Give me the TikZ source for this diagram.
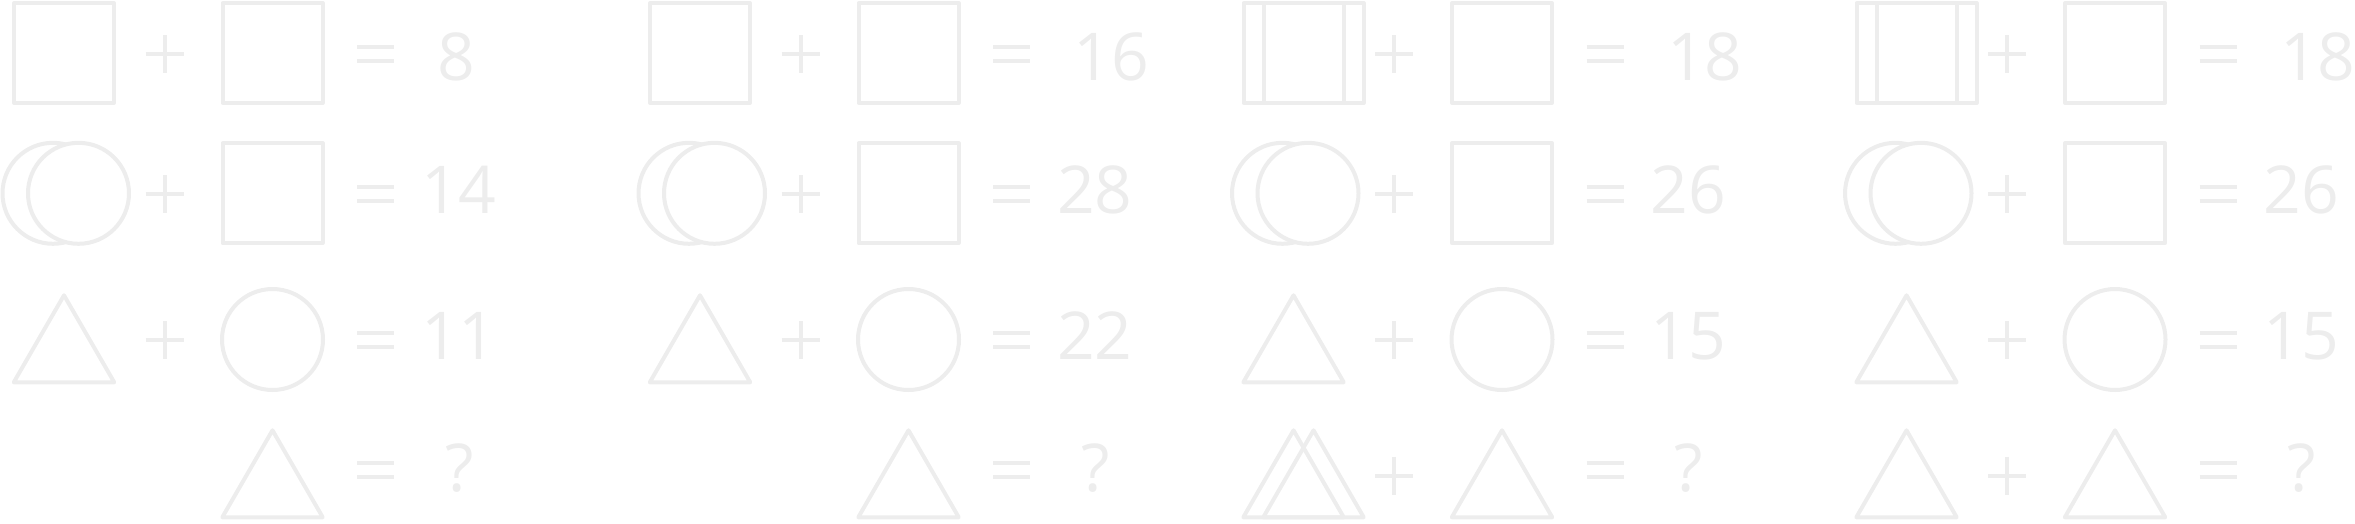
\documentclass[tikz,border=0pt]{standalone}
\usepackage{fontspec}
\usepackage{xcolor}
\usepackage{tikz}
\usetikzlibrary{shapes.geometric}
\newfontfamily\puzzlefont{Open Sans}
\definecolor{puzzleGray}{HTML}{EDEDED}
\tikzset{
    shape_line/.style={
        draw=puzzleGray, line width=4pt, line join=round, inner sep=0pt, outer sep=0pt
    },
    box_sq/.style={shape_line, rectangle, minimum size=100pt},
    box_circ/.style={shape_line, circle, fill=white, minimum size=101pt},
    box_tri/.style={shape_line, regular polygon, regular polygon sides=3, minimum size=116pt},
    sign_line/.style={draw=puzzleGray, line width=4pt, line cap=butt},
    num_lbl/.style={
        text=puzzleGray, font=\puzzlefont\fontsize{66}{66}\selectfont,
        inner sep=0pt, anchor=base west
    },
    ask_lbl/.style={num_lbl, anchor=base},
    plus_sign/.pic={\draw[sign_line] (-19,0) -- (19,0) (0,-19) -- (0,19);},
    eq_sign/.pic={\draw[sign_line] (-18.5,-7) -- (18.5,-7) (-18.5,7) -- (18.5,7);}
}

\begin{document}
\begin{tikzpicture}[x=1pt, y=-1pt]
    \useasboundingbox (0,0) rectangle (2355,523);

    % Panel 1
    \begin{scope}
        % Row 1: square + square = 8
        \node[box_sq] (p1sqa) at (64,53) {};
        \pic (p1plusa) at (164.5,54) {plus_sign};
        \node[box_sq] (p1sqb) at (272.5,53) {};
        \pic (p1eqa) at (375.5,53.7) {eq_sign};
        \node[num_lbl] (p1numa) at (437.5,80) {8};
        % Row 2: two circles + square = 14
        \node[box_circ] (p1cira) at (53,193.3) {};
        \node[box_circ] (p1cirb) at (78.5,193.3) {};
        \pic (p1plusb) at (164.5,194) {plus_sign};
        \node[box_sq] (p1sqc) at (272.5,193.3) {};
        \pic (p1eqb) at (375.5,193.7) {eq_sign};
        \node[num_lbl] (p1numb) at (420.8,213) {14};
        % Row 3: triangle + circle = 11
        \node[box_tri] (p1tria) at (64,353.3) {};
        \pic (p1plusc) at (164.5,340) {plus_sign};
        \node[box_circ] (p1circ) at (272.5,339.5) {};
        \pic (p1eqc) at (375.5,339.5) {eq_sign};
        \node[num_lbl] (p1numc) at (420.8,359) {11};
        % Row 4: triangle = ?
        \node[box_tri] (p1trib) at (272.5,488.3) {};
        \pic (p1eqd) at (375.5,470.4) {eq_sign};
        \node[ask_lbl] (p1ask) at (459.5,491) {?};
    \end{scope}

    % Panel 2
    \begin{scope}[xshift=636pt]
        % Row 1: square + square = 16
        \node[box_sq] (p2sqa) at (64,53) {};
        \pic (p2plusa) at (164.5,54) {plus_sign};
        \node[box_sq] (p2sqb) at (272.5,53) {};
        \pic (p2eqa) at (375.5,53.7) {eq_sign};
        \node[num_lbl] (p2numa) at (437.5,80) {16};
        % Row 2: two circles + square = 28
        \node[box_circ] (p2cira) at (53,193.3) {};
        \node[box_circ] (p2cirb) at (78.5,193.3) {};
        \pic (p2plusb) at (164.5,194) {plus_sign};
        \node[box_sq] (p2sqc) at (272.5,193.3) {};
        \pic (p2eqb) at (375.5,193.7) {eq_sign};
        \node[num_lbl] (p2numb) at (420.8,213) {28};
        % Row 3: triangle + circle = 22
        \node[box_tri] (p2tria) at (64,353.3) {};
        \pic (p2plusc) at (164.5,340) {plus_sign};
        \node[box_circ] (p2circ) at (272.5,339.5) {};
        \pic (p2eqc) at (375.5,339.5) {eq_sign};
        \node[num_lbl] (p2numc) at (420.8,359) {22};
        % Row 4: triangle = ?
        \node[box_tri] (p2trib) at (272.5,488.3) {};
        \pic (p2eqd) at (375.5,470.4) {eq_sign};
        \node[ask_lbl] (p2ask) at (459.5,491) {?};
    \end{scope}

    % Panel 3
    \begin{scope}[xshift=1229.5pt]
        % Row 1: two squares + square = 18
        \node[box_sq] (p3sqa) at (64,53) {};
        \node[box_sq] (p3sqb) at (84,53) {};
        \pic (p3plusa) at (164.5,54) {plus_sign};
        \node[box_sq] (p3sqc) at (272.5,53) {};
        \pic (p3eqa) at (375.5,53.7) {eq_sign};
        \node[num_lbl] (p3numa) at (437.5,80) {18};
        % Row 2: two circles + square = 26
        \node[box_circ] (p3cira) at (53,193.3) {};
        \node[box_circ] (p3cirb) at (78.5,193.3) {};
        \pic (p3plusb) at (164.5,194) {plus_sign};
        \node[box_sq] (p3sqd) at (272.5,193.3) {};
        \pic (p3eqb) at (375.5,193.7) {eq_sign};
        \node[num_lbl] (p3numb) at (420.8,213) {26};
        % Row 3: triangle + circle = 15
        \node[box_tri] (p3tria) at (64,353.3) {};
        \pic (p3plusc) at (164.5,340) {plus_sign};
        \node[box_circ] (p3circ) at (272.5,339.5) {};
        \pic (p3eqc) at (375.5,339.5) {eq_sign};
        \node[num_lbl] (p3numc) at (420.8,359) {15};
        % Row 4: two triangles + triangle = ?
        \node[box_tri] (p3trib) at (64,488.3) {};
        \node[box_tri] (p3tric) at (84,488.3) {};
        \pic (p3plusd) at (164.5,475.5) {plus_sign};
        \node[box_tri] (p3trid) at (272.5,488.3) {};
        \pic (p3eqd) at (375.5,470.4) {eq_sign};
        \node[ask_lbl] (p3ask) at (459.5,491) {?};
    \end{scope}

    % Panel 4
    \begin{scope}[xshift=1842.5pt]
        % Row 1: two squares + square = 18
        \node[box_sq] (p4sqa) at (64,53) {};
        \node[box_sq] (p4sqb) at (84,53) {};
        \pic (p4plusa) at (164.5,54) {plus_sign};
        \node[box_sq] (p4sqc) at (272.5,53) {};
        \pic (p4eqa) at (375.5,53.7) {eq_sign};
        \node[num_lbl] (p4numa) at (437.5,80) {18};
        % Row 2: two circles + square = 26
        \node[box_circ] (p4cira) at (53,193.3) {};
        \node[box_circ] (p4cirb) at (78.5,193.3) {};
        \pic (p4plusb) at (164.5,194) {plus_sign};
        \node[box_sq] (p4sqd) at (272.5,193.3) {};
        \pic (p4eqb) at (375.5,193.7) {eq_sign};
        \node[num_lbl] (p4numb) at (420.8,213) {26};
        % Row 3: triangle + circle = 15
        \node[box_tri] (p4tria) at (64,353.3) {};
        \pic (p4plusc) at (164.5,340) {plus_sign};
        \node[box_circ] (p4circ) at (272.5,339.5) {};
        \pic (p4eqc) at (375.5,339.5) {eq_sign};
        \node[num_lbl] (p4numc) at (420.8,359) {15};
        % Row 4: triangle + triangle = ?
        \node[box_tri] (p4trib) at (64,488.3) {};
        \pic (p4plusd) at (164.5,475.5) {plus_sign};
        \node[box_tri] (p4tric) at (272.5,488.3) {};
        \pic (p4eqd) at (375.5,470.4) {eq_sign};
        \node[ask_lbl] (p4ask) at (459.5,491) {?};
    \end{scope}
\end{tikzpicture}
\end{document}
